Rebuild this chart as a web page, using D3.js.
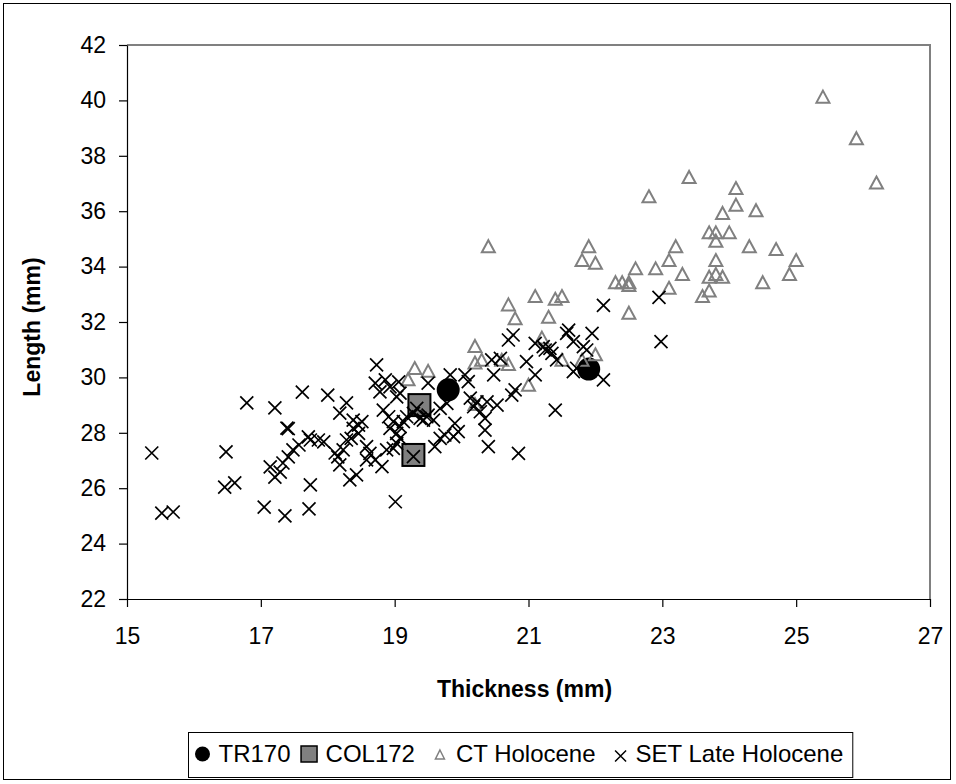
<!DOCTYPE html>
<html>
<head>
<meta charset="utf-8">
<script src="https://cdn.jsdelivr.net/npm/d3@7"></script>
<style>
  body { margin: 0; background: #fff; }
  text { font-family: "Liberation Sans", Arial, sans-serif; }
</style>
</head>
<body>
<svg id="chart"></svg>
<script>
const width = 956;
const height = 784;

// [thickness, length] pairs
const tr170 = [[19.8, 29.55], [21.9, 30.3]];
const col172 = [[19.37, 29.0], [19.28, 27.2]];
const ctHolocene = [
  [25.4, 40.1], [25.9, 38.6], [26.2, 37.0], [23.4, 37.2], [22.8, 36.5], [24.1, 36.8],
  [24.1, 36.2], [23.9, 35.9], [24.4, 36.0], [23.7, 35.2], [23.8, 35.2], [24.0, 35.2],
  [23.8, 34.9], [23.2, 34.7], [24.3, 34.7], [24.7, 34.6], [25.0, 34.2], [23.1, 34.2],
  [22.9, 33.9], [22.6, 33.9], [23.3, 33.7], [23.8, 34.2], [23.7, 33.6], [23.9, 33.6],
  [23.8, 33.7], [23.1, 33.2], [23.7, 33.1], [23.6, 32.9], [24.5, 33.4], [24.9, 33.7],
  [20.4, 34.7], [21.9, 34.7], [21.8, 34.2], [22.0, 34.1], [22.3, 33.4], [22.4, 33.4],
  [22.5, 33.4], [22.5, 33.3], [21.1, 32.9], [21.4, 32.8], [21.5, 32.9], [20.7, 32.6],
  [20.8, 32.1], [21.3, 32.15], [22.5, 32.3], [20.2, 31.1], [20.3, 30.6], [20.2, 30.5],
  [20.6, 30.6], [20.7, 30.45], [21.0, 29.7], [21.2, 31.4], [21.5, 30.6], [22.0, 30.8],
  [21.8, 30.6], [19.3, 30.3], [19.5, 30.2], [19.2, 29.9], [20.2, 29.0]
];
const setLateHolocene = [
  [15.37, 27.27], [15.52, 25.10], [15.69, 25.14], [16.48, 27.31], [16.46, 26.04], [16.61, 26.19],
  [16.79, 29.08], [17.21, 28.90], [17.05, 25.32], [17.36, 25.00], [17.62, 29.47], [17.39, 28.17],
  [17.41, 28.15], [17.72, 25.25], [17.74, 26.12], [17.14, 26.77], [17.21, 26.40], [17.29, 26.58],
  [17.33, 26.91], [17.41, 27.13], [17.48, 27.38], [17.57, 27.56], [17.71, 27.85], [17.74, 27.74],
  [17.86, 27.74], [17.94, 27.67], [18.00, 29.36], [18.18, 28.71], [18.28, 29.08], [18.11, 27.27],
  [18.15, 27.13], [18.18, 26.84], [18.28, 27.74], [18.33, 26.30],
  [18.73, 30.45], [18.71, 29.79], [18.86, 29.91], [18.93, 29.66], [18.78, 29.48], [19.06, 29.84],
  [19.08, 29.43], [19.03, 29.30], [18.83, 28.82], [18.91, 28.58], [18.98, 28.40], [18.93, 28.16],
  [19.03, 27.98], [19.08, 28.22], [19.13, 28.40], [19.18, 28.58], [19.28, 28.70], [19.38, 28.52],
  [19.48, 28.58], [19.08, 27.80], [18.98, 27.44], [18.88, 27.38], [19.03, 27.62], [18.38, 28.46],
  [18.46, 28.28], [18.51, 28.40], [18.38, 28.16], [18.46, 27.98], [18.35, 27.80], [18.23, 27.38],
  [18.58, 27.50], [18.63, 27.26], [18.58, 27.02], [18.71, 27.02], [18.81, 26.78], [18.43, 26.48],
  [19.28, 27.14], [19.33, 28.88],
  [20.70, 31.35], [21.10, 31.23], [21.25, 30.99], [21.35, 30.87], [21.42, 30.63], [20.97, 30.57],
  [21.10, 30.09], [20.45, 30.63], [20.58, 30.69], [20.48, 30.09], [19.83, 30.09], [20.05, 30.09],
  [20.10, 29.85], [19.50, 29.79], [20.80, 29.55], [20.75, 29.36], [20.13, 29.25], [20.23, 29.12],
  [20.38, 29.12], [20.53, 29.00], [20.18, 28.94], [20.28, 28.76], [20.35, 28.52], [20.35, 28.10],
  [19.68, 28.88], [19.78, 29.06], [19.90, 28.34], [19.95, 28.04], [19.75, 27.92], [19.68, 27.80],
  [19.60, 27.50], [19.88, 27.86], [20.40, 27.50], [20.85, 27.26], [21.40, 28.82], [19.50, 28.64],
  [19.58, 28.46], [19.43, 28.46],
  [22.12, 32.60], [22.95, 32.89], [22.98, 31.29], [21.60, 31.71], [21.57, 31.59], [21.67, 31.29],
  [21.95, 31.59], [21.82, 31.11], [21.87, 30.99], [22.12, 29.91], [21.22, 31.11], [21.32, 31.05],
  [21.72, 30.33], [21.67, 30.21], [20.77, 31.53], [19.01, 25.51]
];

const xTicks = [15, 17, 19, 21, 23, 25, 27];
const yTicks = [22, 24, 26, 28, 30, 32, 34, 36, 38, 40, 42];
const legendLabels = ['TR170', 'COL172', 'CT Holocene', 'SET Late Holocene'];

const plotLeft = 127, plotRight = 930, plotTop = 45, plotBottom = 599;
const fontSize = 23;

const svg = d3.select('#chart')
  .attr('width', width)
  .attr('height', height);

// outer chart border
svg.append('rect')
  .attr('x', 3.5).attr('y', 3.5)
  .attr('width', 947).attr('height', 776)
  .attr('fill', 'none').attr('stroke', '#000').attr('stroke-width', 1);

const x = d3.scaleLinear().domain([15, 27]).range([plotLeft, plotRight]);
const y = d3.scaleLinear().domain([22, 42]).range([plotBottom, plotTop]);

// plot area border (grey top and right)
svg.append('path')
  .attr('d', `M${plotLeft},${plotTop}H${plotRight}V${plotBottom}`)
  .attr('fill', 'none').attr('stroke', '#808080').attr('stroke-width', 2);

const xAxis = svg.append('g')
  .attr('transform', `translate(0,${plotBottom})`)
  .call(d3.axisBottom(x).tickValues(xTicks).tickSize(8).tickSizeOuter(0).tickPadding(21));

const yAxis = svg.append('g')
  .attr('transform', `translate(${plotLeft},0)`)
  .call(d3.axisLeft(y).tickValues(yTicks).tickSize(8).tickSizeOuter(0).tickPadding(13));

[xAxis, yAxis].forEach(a => {
  a.selectAll('text').attr('font-size', fontSize).attr('fill', '#000')
    .attr('font-family', '"Liberation Sans", Arial, sans-serif');
  a.selectAll('line, path').attr('stroke', '#000').attr('stroke-width', 1.2);
});

svg.append('text')
  .attr('x', (plotLeft + plotRight) / 2 - 4).attr('y', 697)
  .attr('text-anchor', 'middle')
  .attr('font-size', fontSize).attr('font-weight', 'bold')
  .text('Thickness (mm)');

svg.append('text')
  .attr('transform', 'translate(40,327) rotate(-90)')
  .attr('text-anchor', 'middle')
  .attr('font-size', fontSize).attr('font-weight', 'bold')
  .text('Length (mm)');

// marker shapes
const triPath = 'M0,-7L6.5,5L-6.5,5Z';
const crossPath = s => `M${-s},${-s}L${s},${s}M${-s},${s}L${s},${-s}`;

const plot = svg.append('g');

plot.selectAll('circle.tr')
  .data(tr170).enter()
  .append('circle')
  .attr('class', 'tr')
  .attr('cx', d => x(d[0]))
  .attr('cy', d => y(d[1]))
  .attr('r', 11.5)
  .attr('fill', '#000');

plot.selectAll('rect.col')
  .data(col172).enter()
  .append('rect')
  .attr('class', 'col')
  .attr('x', d => x(d[0]) - 11)
  .attr('y', d => y(d[1]) - 11)
  .attr('width', 22).attr('height', 22)
  .attr('fill', '#808080')
  .attr('stroke', '#000').attr('stroke-width', 2);

plot.selectAll('path.ct')
  .data(ctHolocene).enter()
  .append('path')
  .attr('class', 'ct')
  .attr('d', triPath)
  .attr('transform', d => `translate(${x(d[0])},${y(d[1])})`)
  .attr('fill', 'none')
  .attr('stroke', '#808080').attr('stroke-width', 2);

plot.selectAll('path.set')
  .data(setLateHolocene).enter()
  .append('path')
  .attr('class', 'set')
  .attr('d', crossPath(6.5))
  .attr('transform', d => `translate(${x(d[0])},${y(d[1])})`)
  .attr('fill', 'none')
  .attr('stroke', '#000').attr('stroke-width', 1.7);

// legend: markers and labels laid out left to right from measured text widths
const legend = svg.append('g');
const legendBox = legend.append('rect')
  .attr('y', 732.5).attr('height', 45)
  .attr('fill', '#fff').attr('stroke', '#000').attr('stroke-width', 1);

const ly = 754;
const markers = [
  g => g.append('circle').attr('r', 7.5).attr('fill', '#000'),
  g => g.append('rect').attr('x', -8).attr('y', -8).attr('width', 16).attr('height', 16)
        .attr('fill', '#808080').attr('stroke', '#000').attr('stroke-width', 1.5),
  g => g.append('path').attr('d', 'M0,-4L4.5,5L-4.5,5Z')
        .attr('fill', 'none').attr('stroke', '#808080').attr('stroke-width', 1.5),
  g => g.append('path').attr('d', crossPath(5.5)).attr('transform', 'translate(0,2)')
        .attr('fill', 'none').attr('stroke', '#000').attr('stroke-width', 1.5)
];
const markerHalf = [7.5, 8.5, 5, 6];
const gapBefore = [0, 10, 20, 19];
const gapAfter = [8.5, 8, 11, 9];

let cursor = 195;
const boxLeft = cursor - 7;
legendLabels.forEach((label, i) => {
  cursor += gapBefore[i];
  const mx = cursor + markerHalf[i];
  const g = legend.append('g').attr('transform', `translate(${mx},${ly})`);
  markers[i](g);
  cursor = mx + markerHalf[i] + gapAfter[i];
  const t = legend.append('text')
    .attr('x', cursor).attr('y', 762)
    .attr('font-size', 24)
    .text(label);
  cursor += t.node().getComputedTextLength();
});
legendBox.attr('x', boxLeft + 0.5).attr('width', cursor + 9 - boxLeft);
</script>
</body>
</html>
